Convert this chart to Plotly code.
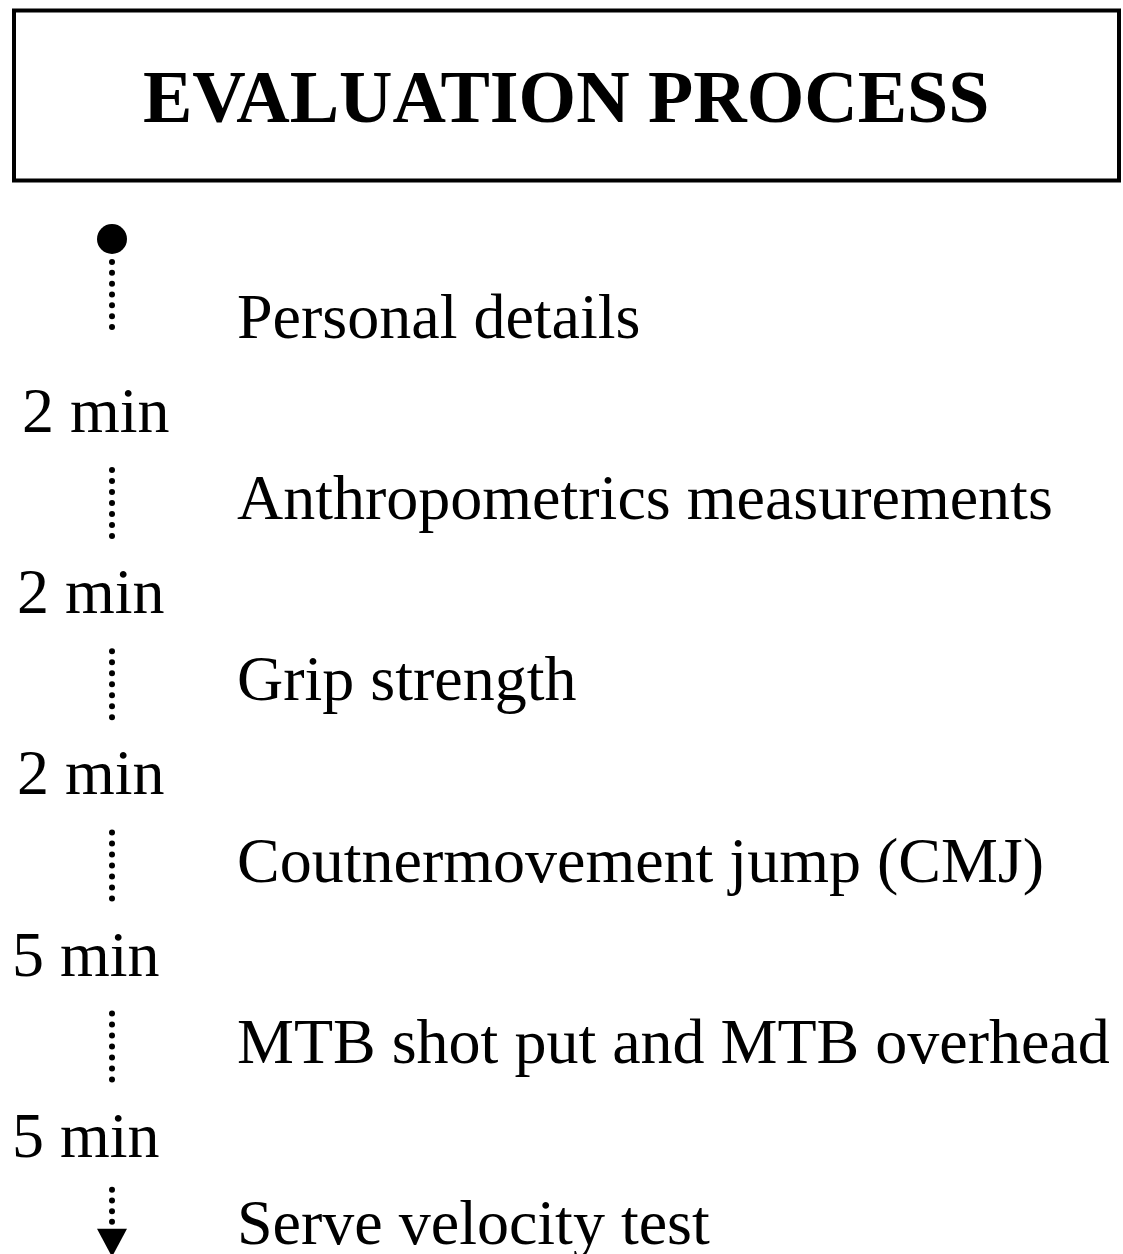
import numpy as np
import plotly.graph_objects as go

# ---- data ----
title = "EVALUATION PROCESS"
steps = [
    "Personal details",
    "Anthropometrics measurements",
    "Grip strength",
    "Coutnermovement jump (CMJ)",
    "MTB shot put and MTB overhead",
    "Serve velocity test",
]
durations = ["2 min", "2 min", "2 min", "5 min", "5 min"]

# ---- layout constants (pixels in a 1123 x 1254 canvas) ----
W, H = 1123, 1254
FONT = "Liberation Serif, Times New Roman, serif"
FS = 64
TITLE_FS = 74
PITCH = 181.2
STEP_X = 235
STEP_BASE0 = 338
DUR_BASE0 = 432
DUR_X = [20, 15, 15, 10, 10]
LINE_X = 112
MID = 0.3375  # baseline -> text-box centre offset (em)

fig = go.Figure()

# start dot
fig.add_trace(go.Scatter(x=[LINE_X], y=[239], mode="markers",
                         marker=dict(size=30, color="black"), hoverinfo="skip"))

# dotted connectors
xs, ys = [], []
for i in range(len(steps)):
    if i == 0:
        top, bot, n = 262, 327, 7
    elif i < len(steps) - 1:
        base = DUR_BASE0 + (i - 1) * PITCH
        top, bot, n = base + 38, base + 104, 7
    else:
        base = DUR_BASE0 + (i - 1) * PITCH
        top, bot, n = base + 33, base + 65, 4
    for y in np.linspace(top, bot, n):
        xs.append(LINE_X)
        ys.append(y)
fig.add_trace(go.Scatter(x=xs, y=ys, mode="markers",
                         marker=dict(size=6, color="black"), hoverinfo="skip"))

# arrow head
last_base = DUR_BASE0 + (len(durations) - 1) * PITCH
a_top = last_base + 72
fig.add_shape(type="path",
              path=f"M {LINE_X-15} {a_top} L {LINE_X+15} {a_top} L {LINE_X} {a_top+28} Z",
              fillcolor="black", line=dict(color="black", width=0))

# title box
fig.add_shape(type="rect", x0=14, y0=10.5, x1=1119, y1=180.5,
              line=dict(color="black", width=4), fillcolor="white", layer="below")
fig.add_annotation(x=566, y=122 - MID * TITLE_FS, text=f"<b>{title}</b>",
                   showarrow=False, xanchor="center", yanchor="middle",
                   font=dict(family=FONT, size=TITLE_FS, color="black"))

# step labels
for i, s in enumerate(steps):
    fig.add_annotation(x=STEP_X, y=STEP_BASE0 + i * PITCH - MID * FS, text=s,
                       showarrow=False, xanchor="left", yanchor="middle",
                       font=dict(family=FONT, size=FS, color="black"))

# duration labels
for i, d in enumerate(durations):
    fig.add_annotation(x=DUR_X[i], y=DUR_BASE0 + i * PITCH - MID * FS, text=d,
                       showarrow=False, xanchor="left", yanchor="middle",
                       font=dict(family=FONT, size=FS, color="black"))

fig.update_layout(
    width=W, height=H, margin=dict(l=0, r=0, t=0, b=0),
    paper_bgcolor="white", plot_bgcolor="white", showlegend=False,
    xaxis=dict(range=[0, W], visible=False, fixedrange=True),
    yaxis=dict(range=[H, 0], visible=False, fixedrange=True),
)
fig.write_html("out.html", config={"displayModeBar": False},
               post_script="document.body.style.margin='0';document.body.style.overflow='hidden';")
